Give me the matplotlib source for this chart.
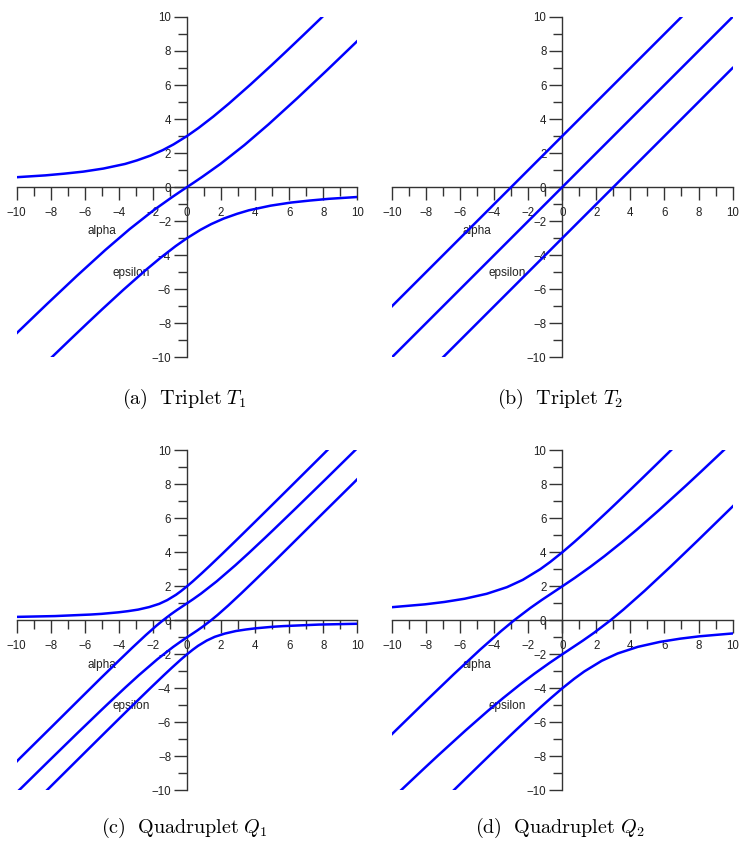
import matplotlib

matplotlib.use("Agg")
import matplotlib.pyplot as plt
from matplotlib.ticker import MultipleLocator

plt.rcParams["font.family"] = "Liberation Sans"
plt.rcParams["mathtext.fontset"] = "cm"

# Triplet T1: energy levels epsilon(alpha)
t1_upper_x = [-10.02, -8.31, -7.21, -6.09, -4.91, -3.64, -2.94, -2.15, -1.43, -0.79,
              0.0, 0.67, 1.55, 2.45, 3.73, 4.97, 5.80, 6.84, 8.18]
t1_upper_y = [0.58, 0.69, 0.79, 0.91, 1.09, 1.36, 1.57, 1.85, 2.17, 2.51,
              3.0, 3.47, 4.15, 4.90, 6.03, 7.17, 7.95, 8.94, 10.23]
t1_middle_x = [-10.08, -8.23, -6.47, -4.79, -3.37, -1.96, -0.92, -0.45, 0.0,
               0.45, 0.92, 1.96, 3.37, 4.79, 6.47, 8.23, 10.08]
t1_middle_y = [-8.66, -6.88, -5.22, -3.69, -2.47, -1.36, -0.62, -0.30, 0.0,
               0.30, 0.62, 1.36, 2.47, 3.69, 5.22, 6.88, 8.66]
t1_lower_x = [-8.18, -6.84, -5.80, -4.97, -3.73, -2.45, -1.55, -0.67, 0.0, 0.79,
              1.43, 2.15, 2.94, 3.64, 4.91, 6.09, 7.21, 8.31, 10.02]
t1_lower_y = [-10.23, -8.94, -7.95, -7.17, -6.03, -4.90, -4.15, -3.47, -3.0, -2.51,
              -2.17, -1.85, -1.57, -1.36, -1.09, -0.91, -0.79, -0.69, -0.58]

# Triplet T2: uncoupled levels
t2_upper_x = [-10, 7]
t2_upper_y = [-7, 10]
t2_middle_x = [-10, 10]
t2_middle_y = [-10, 10]
t2_lower_x = [-7, 10]
t2_lower_y = [-10, 7]

# Quadruplet Q1
q1_a_x = [-10.10, -7.75, -5.66, -5.02, -4.03, -3.46, -2.87, -2.22, -1.63, -1.16, -0.65, -0.35,
          0.0, 0.35, 0.88, 1.35, 2.07, 2.80, 3.30, 3.94, 4.80, 6.02, 7.86, 9.20]
q1_a_y = [0.20, 0.25, 0.34, 0.38, 0.47, 0.54, 0.63, 0.78, 0.97, 1.19, 1.50, 1.72,
          2.0, 2.30, 2.78, 3.22, 3.91, 4.62, 5.11, 5.74, 6.59, 7.80, 9.63, 10.97]
q1_b_x = [-10.32, -9.81, -7.88, -6.15, -5.08, -3.98, -3.19, -2.42, -1.80, -1.41, -0.94, -0.60,
          -0.30, 0.0, 0.37, 0.82, 1.74, 2.84, 3.63, 4.61, 5.03, 6.42, 8.14, 10.10]
q1_b_y = [-8.63, -8.11, -6.20, -4.48, -3.42, -2.35, -1.59, -0.87, -0.32, 0.0, 0.36, 0.60,
          0.80, 1.0, 1.25, 1.57, 2.29, 3.24, 3.96, 4.88, 5.28, 6.62, 8.30, 10.23]
q1_c_x = [-10.10, -8.14, -6.42, -5.03, -4.61, -3.63, -2.84, -1.74, -0.82, -0.37, 0.0, 0.30,
          0.60, 0.94, 1.41, 1.80, 2.42, 3.19, 3.98, 5.08, 6.15, 7.88, 9.81, 10.32]
q1_c_y = [-10.23, -8.30, -6.62, -5.28, -4.88, -3.96, -3.24, -2.29, -1.57, -1.25, -1.0, -0.80,
          -0.60, -0.36, 0.0, 0.32, 0.87, 1.59, 2.35, 3.42, 4.48, 6.20, 8.11, 8.63]
q1_d_x = [-9.20, -7.86, -6.02, -4.80, -3.94, -3.30, -2.80, -2.07, -1.35, -0.88, -0.35, 0.0,
          0.35, 0.65, 1.16, 1.63, 2.22, 2.87, 3.46, 4.03, 5.02, 5.66, 7.75, 10.10]
q1_d_y = [-10.97, -9.63, -7.80, -6.59, -5.74, -5.11, -4.62, -3.91, -3.22, -2.78, -2.30, -2.0,
          -1.72, -1.50, -1.19, -0.97, -0.78, -0.63, -0.54, -0.47, -0.38, -0.34, -0.25, -0.20]

# Quadruplet Q2
q2_a_x = [-10.03, -8.06, -6.92, -5.73, -4.44, -3.25, -2.32, -1.29, -0.70, 0.0,
          0.71, 1.28, 1.76, 2.70, 3.11, 4.13, 4.79, 5.59, 6.59]
q2_a_y = [0.77, 0.94, 1.08, 1.27, 1.56, 1.95, 2.38, 3.01, 3.44, 4.0,
          4.61, 5.12, 5.56, 6.44, 6.83, 7.81, 8.45, 9.23, 10.21]
q2_b_x = [-10.15, -7.96, -6.38, -4.84, -3.60, -2.83, -1.87, -1.20, -0.60, 0.0,
          0.74, 1.65, 2.47, 3.48, 4.36, 5.68, 7.27, 8.15, 9.21, 10.05]
q2_b_y = [-6.84, -4.70, -3.18, -1.74, -0.64, 0.0, 0.73, 1.20, 1.60, 2.0,
          2.50, 3.15, 3.77, 4.58, 5.32, 6.48, 7.93, 8.75, 9.75, 10.55]
q2_c_x = [-10.05, -9.21, -8.15, -7.27, -5.68, -4.36, -3.48, -2.47, -1.65, -0.74,
          0.0, 0.60, 1.20, 1.87, 2.83, 3.60, 4.84, 6.38, 7.96, 10.15]
q2_c_y = [-10.55, -9.75, -8.75, -7.93, -6.48, -5.32, -4.58, -3.77, -3.15, -2.50,
          -2.0, -1.60, -1.20, -0.73, 0.0, 0.64, 1.74, 3.18, 4.70, 6.84]
q2_d_x = [-6.59, -5.59, -4.79, -4.13, -3.11, -2.70, -1.76, -1.28, -0.71, 0.0,
          0.70, 1.29, 2.32, 3.25, 4.44, 5.73, 6.92, 8.06, 10.03]
q2_d_y = [-10.21, -9.23, -8.45, -7.81, -6.83, -6.44, -5.56, -5.12, -4.61, -4.0,
          -3.44, -3.01, -2.38, -1.95, -1.56, -1.27, -1.08, -0.94, -0.77]

captions = [
    r"$\mathrm{(a)\ \ Triplet}\ T_1$",
    r"$\mathrm{(b)\ \ Triplet}\ T_2$",
    r"$\mathrm{(c)\ \ Quadruplet}\ Q_1$",
    r"$\mathrm{(d)\ \ Quadruplet}\ Q_2$",
]
major_ticks = list(range(-10, 11, 2))

CURVE_COLOR = "#0000ff"
AXIS_COLOR = "#333333"


def style_axes(ax):
    ax.set_xlim(-10, 10)
    ax.set_ylim(-10, 10)
    ax.patch.set_visible(False)
    for side in ("top", "right"):
        ax.spines[side].set_visible(False)
    for side in ("left", "bottom"):
        ax.spines[side].set_position("zero")
        ax.spines[side].set_color(AXIS_COLOR)
        ax.spines[side].set_linewidth(1.0)
    ax.set_xticks(major_ticks)
    ax.set_yticks(major_ticks)
    ax.xaxis.set_minor_locator(MultipleLocator(1))
    ax.yaxis.set_minor_locator(MultipleLocator(1))
    ax.tick_params(which="both", direction="out", color=AXIS_COLOR, width=1.0,
                   labelsize=8.3, labelcolor="#222222")
    ax.tick_params(which="major", length=9.4)
    ax.tick_params(which="minor", length=6.5)
    ax.tick_params(axis="x", which="major", pad=5)
    ax.tick_params(axis="y", which="major", pad=2)
    ax.text(-5.0, -2.6, "alpha", ha="center", va="center", fontsize=8.5,
            color="#222222", zorder=1)
    ax.text(-3.25, -5.05, "epsilon", ha="center", va="center", fontsize=8.5,
            color="#222222", zorder=1)


fig = plt.figure(figsize=(7.39, 8.43), dpi=100)
ax_a = fig.add_axes([0.0226, 0.5762, 0.4609, 0.4037])
ax_b = fig.add_axes([0.5304, 0.5762, 0.4609, 0.4037])
ax_c = fig.add_axes([0.0226, 0.0625, 0.4609, 0.4033])
ax_d = fig.add_axes([0.5304, 0.0625, 0.4609, 0.4033])

panels = [
    (ax_a, [(t1_upper_x, t1_upper_y), (t1_middle_x, t1_middle_y), (t1_lower_x, t1_lower_y)]),
    (ax_b, [(t2_upper_x, t2_upper_y), (t2_middle_x, t2_middle_y), (t2_lower_x, t2_lower_y)]),
    (ax_c, [(q1_a_x, q1_a_y), (q1_b_x, q1_b_y), (q1_c_x, q1_c_y), (q1_d_x, q1_d_y)]),
    (ax_d, [(q2_a_x, q2_a_y), (q2_b_x, q2_b_y), (q2_c_x, q2_c_y), (q2_d_x, q2_d_y)]),
]

for ax, curves in panels:
    style_axes(ax)
    for xs, ys in curves:
        ax.plot(xs, ys, color=CURVE_COLOR, lw=1.8, zorder=3, solid_joinstyle="round")

# captions under each panel
caption_pos = [(184, 404), (560, 404), (184, 833), (560, 833)]
for text, (px, py) in zip(captions, caption_pos):
    fig.text(px / 739, 1 - py / 843, text, ha="center", va="baseline", fontsize=14.5)

fig.savefig("out.png", dpi=100)
